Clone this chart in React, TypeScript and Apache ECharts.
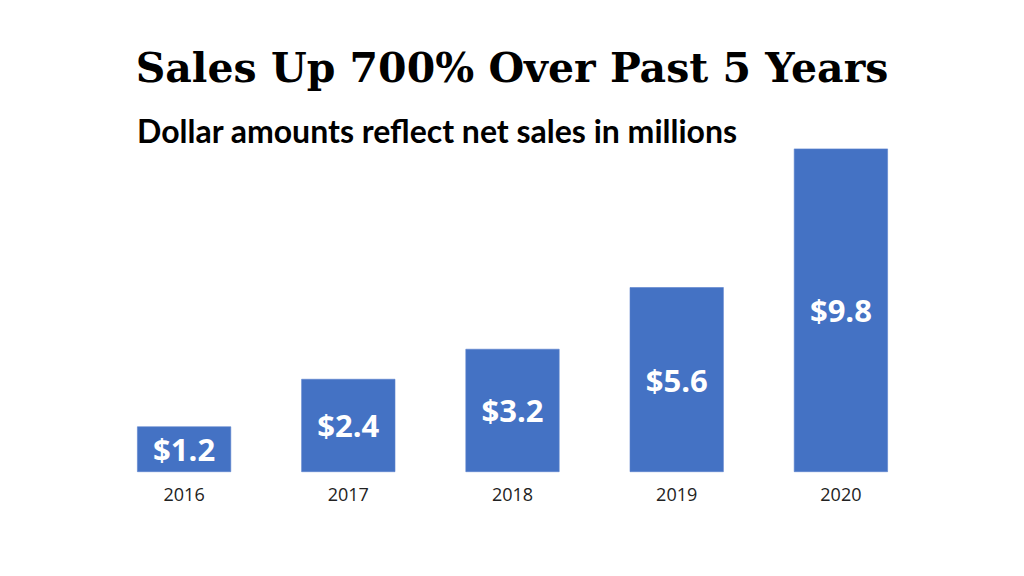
import React, { useEffect, useRef } from "react";
import * as echarts from "echarts";

const years = ["2016", "2017", "2018", "2019", "2020"];
// bar heights as drawn (millions of dollars)
const barValues = [1.38, 2.82, 3.73, 5.6, 9.8];
// values printed on the bars
const labelValues = ["$1.2", "$2.4", "$3.2", "$5.6", "$9.8"];

const titleText = "Sales Up 700% Over Past 5 Years";
const subtitleText = "Dollar amounts reflect net sales in millions";

export default function App() {
  const ref = useRef<HTMLDivElement>(null);
  useEffect(() => {
    if (!ref.current) return;
    const chart = echarts.init(ref.current, null, { renderer: "svg" });
    chart.setOption({
      animation: false,
      backgroundColor: "#ffffff",
      title: [
        {
          text: titleText,
          left: "center",
          top: 42,
          textStyle: {
            fontFamily: "DejaVu Serif",
            fontWeight: "bold",
            fontSize: 41,
            color: "#000",
          },
        },
        {
          text: subtitleText,
          left: 132,
          top: 109,
          textStyle: {
            fontFamily: "Lato",
            fontWeight: "bold",
            fontSize: 32,
            color: "#000",
          },
        },
      ],
      grid: { left: 102, right: 101, top: 142, bottom: 104 },
      xAxis: {
        type: "category",
        data: years,
        axisLine: { show: false },
        axisTick: { show: false },
        axisLabel: {
          margin: 13,
          fontFamily: "Open Sans",
          fontSize: 18,
          color: "#222",
        },
      },
      yAxis: {
        type: "value",
        min: 0,
        max: 10,
        show: false,
        splitLine: { show: false },
      },
      series: [
        {
          type: "bar",
          data: barValues,
          barWidth: 94,
          itemStyle: { color: "#4472C4", borderColor: "#5a82cc", borderWidth: 0.6 },
          label: {
            show: true,
            position: "inside",
            formatter: (p: any) => labelValues[p.dataIndex],
            fontFamily: "Open Sans",
            fontWeight: "bold",
            fontSize: 31,
            color: "#ffffff",
          },
        },
      ],
    });
    return () => chart.dispose();
  }, []);
  return (
    <div
      ref={ref}
      style={{ position: "fixed", left: 0, top: 0, width: 1024, height: 576 }}
    />
  );
}
